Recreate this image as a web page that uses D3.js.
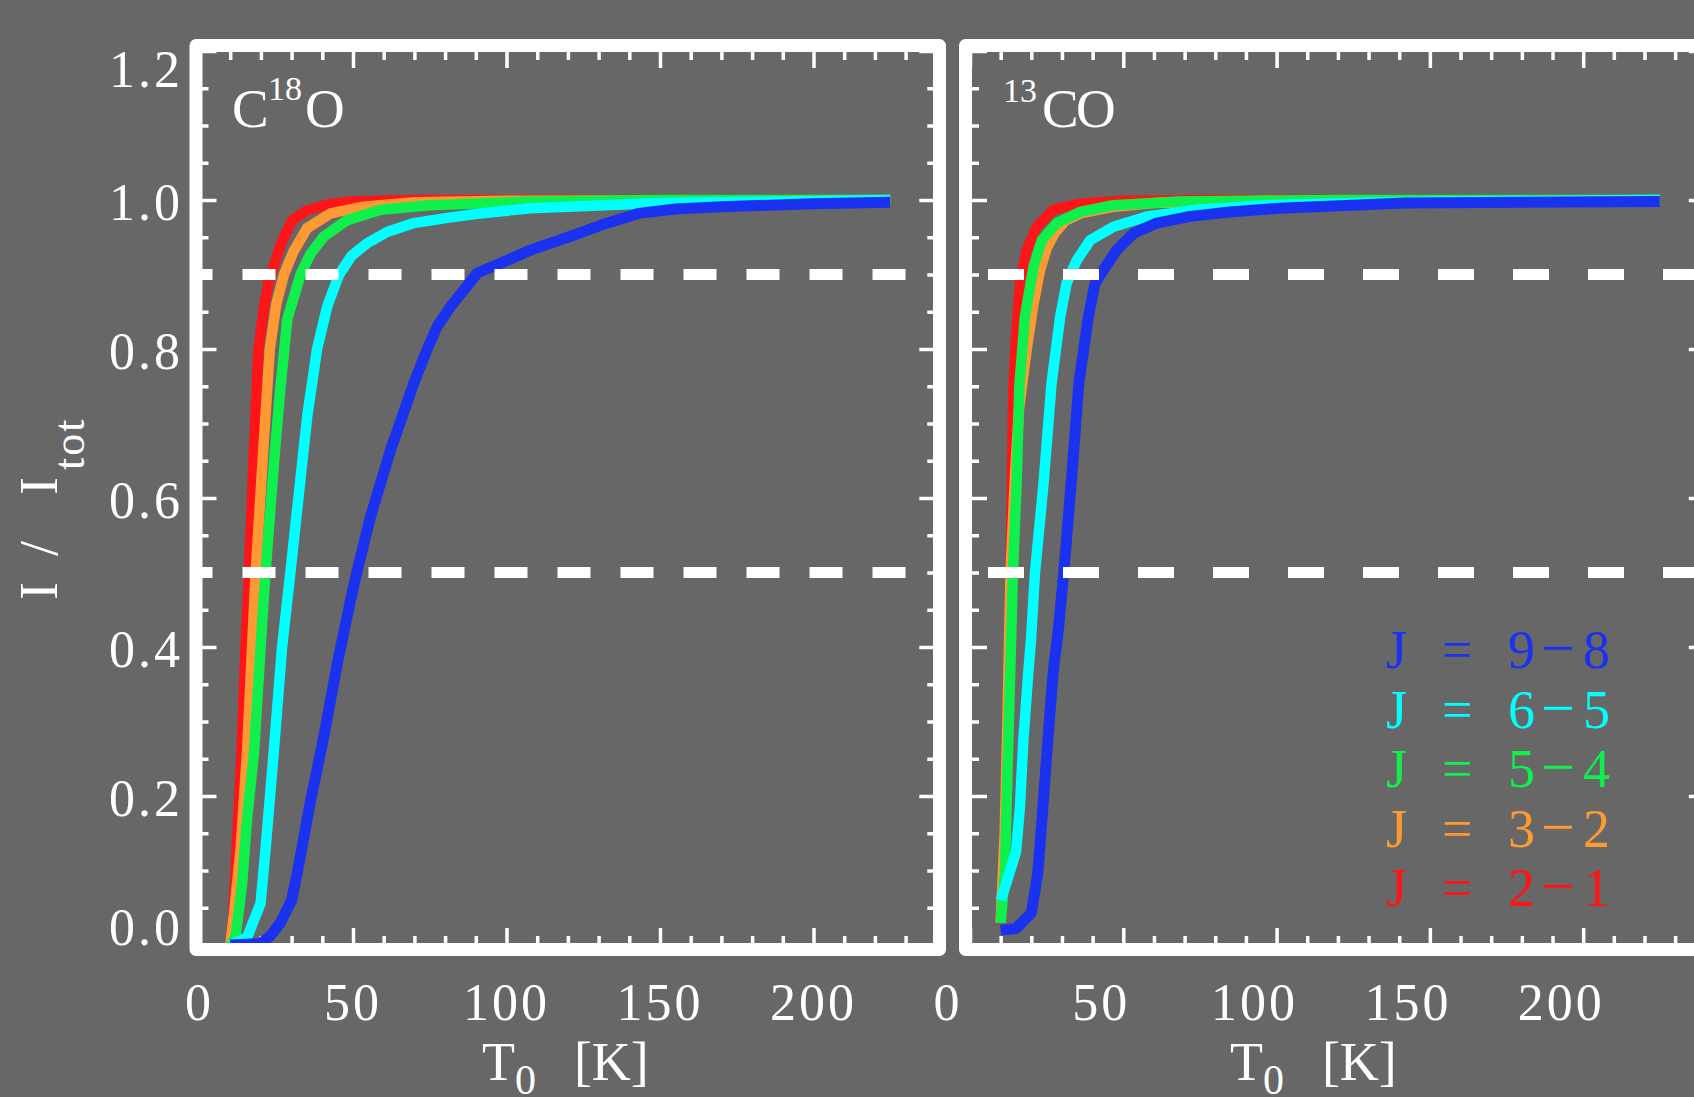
<!DOCTYPE html>
<html>
<head>
<meta charset="utf-8">
<script src="https://cdn.jsdelivr.net/npm/d3@7"></script>
<style>
html, body { margin: 0; padding: 0; background: #676767; overflow: hidden; }
svg { display: block; }
text { font-family: "Liberation Serif", "DejaVu Serif", serif; fill: #fff; }
</style>
</head>
<body>
<svg id="chart" width="1694" height="1097"></svg>
<script>
// transitions, top to bottom as in the legend
const transitions = ["9\u22128", "6\u22125", "5\u22124", "3\u22122", "2\u22121"];

// C18O panel: [T0 (K), I / Itot]
const c18oJ21 = [[10,0],[11,0.04],[12,0.12],[13.7,0.26],[15,0.4],[16.1,0.5],[17.7,0.66],[19.2,0.8],[20.8,0.85],[22.5,0.89],[26.4,0.94],[30.2,0.973],[35,0.986],[41.6,0.994],[50,0.998],[70,1],[225,1]];
const c18oJ32 = [[10,0],[11.2,0.04],[13.4,0.13],[15.5,0.26],[18.3,0.5],[20.7,0.66],[22.9,0.8],[25,0.86],[27.5,0.9],[30.5,0.93],[35,0.962],[42.7,0.982],[53.5,0.991],[70,0.997],[100,0.999],[225,1]];
const c18oJ54 = [[10,0],[11.7,0.01],[13.9,0.083],[15.5,0.17],[17.8,0.26],[19.9,0.4],[21.5,0.5],[24.5,0.66],[26.4,0.75],[28.6,0.84],[32.9,0.9],[36.2,0.928],[40.5,0.951],[48.1,0.973],[59,0.987],[75,0.993],[108,0.998],[150,1],[225,1]];
const c18oJ65 = [[10,0],[15.5,0.01],[19.9,0.056],[21.5,0.128],[24.2,0.26],[26.9,0.4],[29.6,0.5],[35.1,0.71],[38.3,0.8],[41.6,0.857],[45.5,0.9],[49.5,0.925],[54.6,0.942],[61.1,0.957],[69.8,0.969],[80.7,0.976],[91.5,0.982],[108,0.989],[150,0.996],[225,1]];
const c18oJ98 = [[10,0],[20,0.002],[23,0.012],[26.4,0.03],[30,0.06],[32,0.1],[34,0.145],[36,0.19],[40.5,0.28],[44.9,0.378],[49.2,0.463],[51.4,0.503],[55.7,0.575],[62.2,0.664],[69.8,0.754],[74.2,0.8],[77.4,0.83],[81.8,0.857],[86.1,0.879],[90.5,0.902],[98,0.915],[108,0.933],[120,0.95],[130.6,0.966],[143,0.982],[155,0.988],[170,0.991],[200,0.995],[225,0.997]];

// 13CO panel
const co13J21 = [[10,0.03],[11,0.1],[12,0.26],[13,0.45],[13.6,0.6],[14.1,0.74],[14.8,0.8],[16.3,0.888],[18.5,0.933],[21.8,0.964],[27.2,0.987],[35.9,0.995],[50,0.999],[80,1],[225,1]];
const co13J32 = [[10,0.03],[11.3,0.15],[12.2,0.3],[13.2,0.5],[14.8,0.64],[16,0.72],[18.5,0.8],[20.7,0.86],[22.8,0.905],[25,0.935],[27.5,0.955],[31,0.972],[36,0.982],[47,0.991],[60,0.996],[100,0.999],[225,1]];
const co13J54 = [[10,0.03],[11.4,0.096],[12.2,0.23],[13.4,0.41],[14,0.5],[15.2,0.62],[16.1,0.75],[17.9,0.843],[20.7,0.91],[23.4,0.946],[28.3,0.969],[35.9,0.984],[46.8,0.993],[68,0.998],[120,1],[225,1]];
const co13J65 = [[10,0.06],[12,0.085],[15,0.125],[16.3,0.186],[17.4,0.275],[19,0.365],[19.9,0.41],[21.2,0.5],[24,0.62],[26.6,0.754],[29.4,0.843],[31.5,0.888],[34.8,0.919],[39.2,0.946],[46.8,0.964],[57.7,0.978],[74,0.987],[95.7,0.993],[150,0.998],[225,1]];
const co13J98 = [[10,0.02],[15,0.022],[20,0.043],[22.1,0.096],[23.8,0.186],[25.4,0.275],[27.1,0.365],[29,0.43],[31,0.52],[33.2,0.63],[35.5,0.754],[38.6,0.843],[40.8,0.888],[43.5,0.906],[47.9,0.933],[53.3,0.955],[60.9,0.969],[71.8,0.978],[84.8,0.984],[101,0.989],[142,0.996],[225,0.998]];

const xTickLabels = [0, 50, 100, 150, 200];
const yTickLabels = ["0.0", "0.2", "0.4", "0.6", "0.8", "1.0", "1.2"];
const refLevels = [0.9, 0.5];

// colours per transition (same order as transitions)
const colors = ["#1a32f0", "#00ffff", "#10f04c", "#ff9933", "#ff1418"];

const panels = [
    { title: ["C", "18", "O"], series: [c18oJ98, c18oJ65, c18oJ54, c18oJ32, c18oJ21],
      range: [199.5, 936.3], frame: [196, 939.5], labelShift: 0, yLabels: true, dash: [33, 30], dashOff: 20 },
    { title: ["13", "C", "O"], series: [co13J98, co13J65, co13J54, co13J32, co13J21],
      range: [970, 1705.8], frame: [965.5, 1709], labelShift: -22, yLabels: false, dash: [36, 39], dashOff: 57 }
];

const svg = d3.select("#chart");
const y = d3.scaleLinear().domain([0, 1.2]).range([945, 51]);

const xMinor = d3.range(0, 241, 10).filter(v => v % 50 !== 0);
const yMajor = yTickLabels.map(Number);
const yMinor = d3.range(0, 1.2001, 0.05).filter(v => Math.abs(v * 5 - Math.round(v * 5)) > 1e-6);

function styleAxis(sel) {
    sel.select(".domain").remove();
    sel.selectAll("line").attr("stroke", "#fff").attr("stroke-width", 3.5);
}

panels.forEach((p, pi) => {
    const x = d3.scaleLinear().domain([0, 240]).range(p.range);
    const g = svg.append("g");

    // ticks on all four sides, pointing inward
    [[d3.axisTop, y(0)], [d3.axisBottom, y(1.2)]].forEach(([fn, pos]) => {
        g.append("g").attr("transform", `translate(0,${pos})`)
            .call(fn(x).tickValues(xTickLabels).tickSize(17).tickFormat("")).call(styleAxis);
        g.append("g").attr("transform", `translate(0,${pos})`)
            .call(fn(x).tickValues(xMinor).tickSize(9).tickFormat("")).call(styleAxis);
    });
    [[d3.axisRight, x(0)], [d3.axisLeft, x(240)]].forEach(([fn, pos]) => {
        g.append("g").attr("transform", `translate(${pos},0)`)
            .call(fn(y).tickValues(yMajor).tickSize(17).tickFormat("")).call(styleAxis);
        g.append("g").attr("transform", `translate(${pos},0)`)
            .call(fn(y).tickValues(yMinor).tickSize(9).tickFormat("")).call(styleAxis);
    });

    // curves, J=2-1 first so J=9-8 ends up on top
    const line = d3.line().x(d => x(d[0])).y(d => y(d[1]));
    p.series.slice().reverse().forEach((s, i) => {
        const ci = p.series.length - 1 - i;
        g.append("path").datum(s)
            .attr("d", line)
            .attr("fill", "none")
            .attr("stroke", colors[ci])
            .attr("stroke-width", ci === 0 ? 11 : 10.5)
            .attr("stroke-linejoin", "round");
    });

    // dashed reference levels
    g.selectAll("line.ref").data(refLevels).join("line")
        .attr("class", "ref")
        .attr("x1", x(0)).attr("x2", x(240))
        .attr("y1", d => y(d)).attr("y2", d => y(d))
        .attr("stroke", "#fff").attr("stroke-width", 11)
        .attr("stroke-dasharray", p.dash.join(" "))
        .attr("stroke-dashoffset", p.dashOff);

    // frame
    g.append("rect")
        .attr("x", p.frame[0]).attr("y", 45.5)
        .attr("width", p.frame[1] - p.frame[0]).attr("height", 949.5 - 45.5)
        .attr("fill", "none").attr("stroke", "#fff")
        .attr("stroke-width", 13).attr("stroke-linejoin", "round");

    // x tick labels
    g.selectAll("text.xl").data(xTickLabels).join("text")
        .attr("class", "xl")
        .attr("x", d => x(d) + p.labelShift)
        .attr("y", 1020)
        .attr("text-anchor", "middle")
        .attr("font-size", 52)
        .attr("letter-spacing", 3)
        .text(d => d);

    // x title
    const cx = (x(0) + x(240)) / 2 + p.labelShift;
    const xt = g.append("text").attr("x", cx - 86).attr("y", 1080).attr("font-size", 54);
    xt.append("tspan").text("T");
    xt.append("tspan").attr("font-size", 42).attr("dy", 14).text("0");
    xt.append("tspan").attr("x", cx + 6).attr("dy", -14).text("[K]");

    // panel name
    const t = g.append("text").attr("font-size", 55);
    if (pi === 0) {
        t.append("tspan").attr("x", 232).attr("y", 127).text(p.title[0]);
        t.append("tspan").attr("x", 268).attr("y", 100).attr("font-size", 34).text(p.title[1]);
        t.append("tspan").attr("x", 305).attr("y", 127).text(p.title[2]);
    } else {
        t.append("tspan").attr("x", 1003).attr("y", 102).attr("font-size", 34).text(p.title[0]);
        t.append("tspan").attr("x", 1042).attr("y", 127).text(p.title[1]);
        t.append("tspan").attr("x", 1076).attr("y", 127).text(p.title[2]);
    }

    if (p.yLabels) {
        g.selectAll("text.yl").data(yTickLabels).join("text")
            .attr("class", "yl")
            .attr("x", 183)
            .attr("y", (d, i) => y(+d) + (i === 0 ? 0 : i === yTickLabels.length - 1 ? 36 : 20))
            .attr("text-anchor", "end")
            .attr("font-size", 52)
            .attr("letter-spacing", 3)
            .text(d => d);
    }
});

// y title  I / I_tot
const yt = svg.append("text").attr("transform", "translate(57,600) rotate(-90)").attr("font-size", 54);
yt.append("tspan").attr("x", 0).text("I");
yt.append("tspan").attr("x", 44).text("/");
yt.append("tspan").attr("x", 105).text("I");
yt.append("tspan").attr("x", 130).attr("dy", 27).attr("font-size", 44).attr("letter-spacing", 2).text("tot");

// legend in the 13CO panel
const leg = svg.append("g");
transitions.forEach((tr, i) => {
    const by = 668 + i * 59.5;
    const row = leg.append("text").attr("y", by).attr("font-size", 54).style("fill", colors[i]);
    row.append("tspan").attr("x", 1386).text("J");
    row.append("tspan").attr("x", 1442).text("=");
    const parts = tr.split("\u2212");
    row.append("tspan").attr("x", 1508).text(parts[0]);
    row.append("tspan").attr("x", 1541).attr("font-size", 60).text("\u2212");
    row.append("tspan").attr("x", 1583).text(parts[1]);
});
</script>
</body>
</html>
